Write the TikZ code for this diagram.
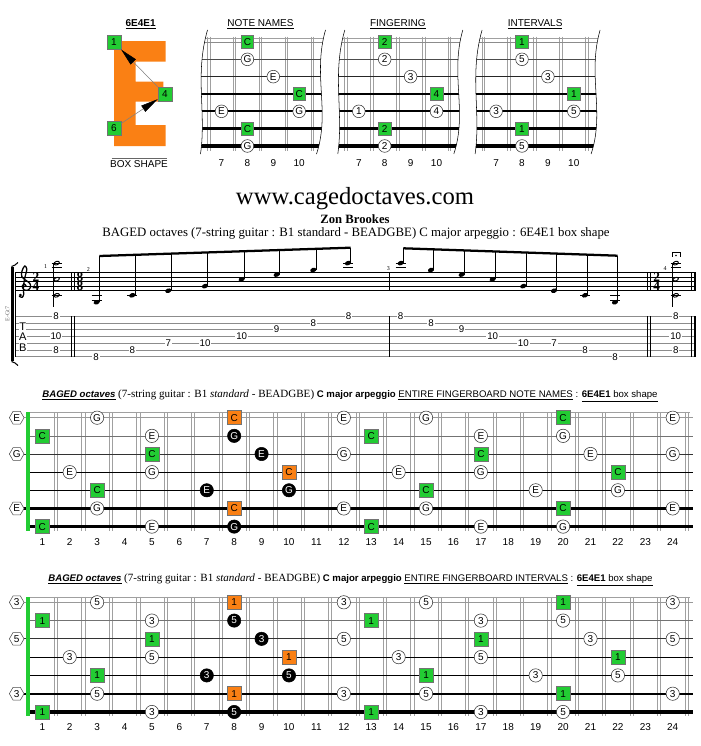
\documentclass[tikz,border=0pt]{standalone}
\usepackage{fontspec}
\setmainfont{Liberation Sans}
\newfontfamily\serf{Liberation Serif}
\usetikzlibrary{shapes.geometric,arrows.meta}
\definecolor{gr}{RGB}{34,204,51}
\definecolor{orn}{RGB}{250,128,20}
\definecolor{fretc}{RGB}{160,160,160}
\newcommand\fs[1]{\fontsize{#1}{#1}\selectfont}
\tikzset{
  nc/.style={circle,draw=black!80,line width=0.4pt,fill=white,inner sep=0pt,minimum size=10pt,font=\fs{7.5}},
  nk/.style={circle,draw=black,fill=black,text=white,inner sep=0pt,minimum size=10pt,font=\fs{7.5}},
  ng/.style={rectangle,draw=black!55,line width=0.4pt,fill=gr,inner sep=0pt,minimum size=10.5pt,font=\fs{7.5}},
  no/.style={rectangle,draw=black!55,line width=0.4pt,fill=orn,inner sep=0pt,minimum size=10.5pt,font=\fs{7.5}},
  nh/.style={regular polygon,regular polygon sides=6,draw=black!70,line width=0.4pt,fill=white,inner sep=0pt,minimum size=11pt,font=\fs{7.5}},
  tabn/.style={fill=white,inner sep=0.6pt,font=\fs{7.3}},
  lbl/.style={font=\fs{7.5}},
  tsig/.style={inner sep=0pt,font=\serf\bfseries\fs{10}},
}
\def\notelist{1/0/h/E/3, 1/3/c/G/5, 1/8/o/C/1, 1/12/c/E/3, 1/15/c/G/5, 1/20/g/C/1, 1/24/c/E/3,
2/1/g/C/1, 2/5/c/E/3, 2/8/k/G/5, 2/13/g/C/1, 2/17/c/E/3, 2/20/c/G/5,
3/0/h/G/5, 3/5/g/C/1, 3/9/k/E/3, 3/12/c/G/5, 3/17/g/C/1, 3/21/c/E/3, 3/24/c/G/5,
4/2/c/E/3, 4/5/c/G/5, 4/10/o/C/1, 4/14/c/E/3, 4/17/c/G/5, 4/22/g/C/1,
5/3/g/C/1, 5/7/k/E/3, 5/10/k/G/5, 5/15/g/C/1, 5/19/c/E/3, 5/22/c/G/5,
6/0/h/E/3, 6/3/c/G/5, 6/8/o/C/1, 6/12/c/E/3, 6/15/c/G/5, 6/20/g/C/1, 6/24/c/E/3,
7/1/g/C/1, 7/5/c/E/3, 7/8/k/G/5, 7/13/g/C/1, 7/17/c/E/3, 7/20/c/G/5}
% full fingerboard: #1 y of string 1, #2 string step, #3 prefix, #4 label macro
\newcommand\fboard[4]{%
  \pgfmathsetmacro\ytop{#1-5.5}%
  \pgfmathsetmacro\ybot{#1+6*#2+4}%
  \draw[fretc,line width=0.4pt] (28.6,\ytop) -- (689.5,\ytop);
  \foreach \k in {1,...,24}{%
    \pgfmathsetmacro\xf{42.3+(\k-0.5)*27.41}%
    \draw[fretc,line width=0.5pt] (\xf-1.6,\ytop) -- (\xf-1.6,\ybot) (\xf+1.6,\ytop) -- (\xf+1.6,\ybot);
  }
  \foreach \st/\w/\cc/\xs in {1/0.5/black!40/16.7,2/0.5/black!55/27,3/0.6/black!80/16.7,4/0.8/black/27,5/1.2/black/27,6/1.8/black/16.7,7/2.6/black/26}{%
    \draw[\cc,line width=\w pt] (\xs,{#1+(\st-1)*#2}) -- (693,{#1+(\st-1)*#2});
  }
  \fill[gr] (26.3,\ytop) rectangle (30.3,\ybot);
  \foreach \k in {1,...,24}{%
    \node[lbl] (#3f\k) at ({42.3+(\k-1)*27.41},{\ybot+11.2}) {\k};
  }
  \foreach \st/\fr/\ty/\nm/\iv in \notelist {%
    \pgfmathsetmacro\xn{ifthenelse(\fr==0,16.7,42.3+(\fr-1)*27.41)}%
    \node[n\ty] (#3n\st-\fr) at (\xn,{#1+(\st-1)*#2}) {#4};
  }
}
% small boards: #1 x of fret 7, #2 prefix, #3 title, #4 list
\newcommand\tboard[4]{%
  \begin{scope}
    \clip (#1-14,30) .. controls (#1-27,75) and (#1-15,112) .. (#1-21,154) -- (#1+95,154) .. controls (#1+109,112) and (#1+91,75) .. (#1+104,30) -- cycle;
    \draw[fretc,line width=0.4pt] (#1-40,38.5) -- (#1+120,38.5);
    \foreach \k in {0,...,4}{%
      \draw[fretc,line width=0.5pt] (#1-12.95+\k*25.9-1.3,36.5) -- ++(0,114) (#1-12.95+\k*25.9+1.3,36.5) -- ++(0,114);
    }
    \foreach \st/\w/\cc in {1/0.45/black!45,2/0.5/black!70,3/0.6/black!85,4/0.9/black,5/1.4/black,6/1.8/black,7/2.6/black}{%
      \draw[\cc,line width=\w pt] (#1-40,{42+(\st-1)*17.33}) -- (#1+120,{42+(\st-1)*17.33});
    }
  \end{scope}
  \draw[line width=0.4pt] (#1-14,30) .. controls (#1-27,75) and (#1-15,112) .. (#1-21,154);
  \draw[line width=0.4pt] (#1+104,30) .. controls (#1+91,75) and (#1+109,112) .. (#1+95,154);
  \foreach \st/\fr/\ty/\lb in {#4}{%
    \node[n\ty,minimum size=9.5pt] (#2n\st-\fr) at ({#1+(\fr-7)*25.9},{42+(\st-1)*17.33}) {\lb};
  }
  \foreach \k in {7,...,10}{%
    \node[lbl] (#2f\k) at ({#1+(\k-7)*25.9},163.3) {\k};
  }
  \node[lbl] (#2t) at (#1+39,24) {\underline{#3}};
}
\newcommand\btitle[1]{{\bfseries\itshape\underline{BAGED octaves}} {\serf\fs{8.3}(7-string guitar : B1 \textit{standard} - BEADGBE)} \textbf{C major arpeggio} \underline{ENTIRE FINGERBOARD #1} : \underline{\textbf{6E4E1} box shape}}
\begin{document}
\begin{tikzpicture}[x=0.75pt,y=-0.75pt]
\fill[white] (0,0) rectangle (700,746);
\useasboundingbox (0,0) rectangle (700,746);

% ---------- box shape ----------
\node[font=\bfseries\fs{7.5}] (bxt) at (140.7,24) {\underline{6E4E1}};
\fill[orn] (114,41) -- (165.7,41) -- (165.7,61.7) -- (135.7,61.7) -- (135.7,81.7) -- (163.3,81.7) -- (163.3,101.7) -- (135.7,101.7) -- (135.7,125) -- (165.7,125) -- (165.7,146) -- (114,146) -- cycle;
\node[ng] (b1) at (114,42.3) {1};
\node[ng] (b4) at (165,94.3) {4};
\node[ng] (b6) at (114,128.3) {6};
\draw[black!50,line width=0.4pt,-{Triangle[black,length=13pt,width=5.5pt]}] (b4) -- (b1);
\draw[black!50,line width=0.4pt,-{Triangle[black,length=13pt,width=5.5pt]}] (b6) -- (b4);
\node[lbl] (bxs) at (139,164.5) {BOX SHAPE};
\draw[black!60,line width=0.4pt] (111.7,158.3) -- (166.7,158.3);

% ---------- small boards ----------
\tboard{221.5}{N}{NOTE NAMES}{1/8/g/C, 2/8/c/G, 3/9/c/E, 4/10/g/C, 5/7/c/E, 5/10/c/G, 6/8/g/C, 7/8/c/G}
\tboard{358.8}{F}{FINGERING}{1/8/g/2, 2/8/c/2, 3/9/c/3, 4/10/g/4, 5/7/c/1, 5/10/c/4, 6/8/g/2, 7/8/c/2}
\tboard{496.1}{I}{INTERVALS}{1/8/g/1, 2/8/c/5, 3/9/c/3, 4/10/g/1, 5/7/c/3, 5/10/c/5, 6/8/g/1, 7/8/c/5}

% ---------- header ----------
\node[font=\serf\fs{18.5}] (web) at (355,199) {www.cagedoctaves.com};
\node[font=\serf\bfseries\fs{9.5}] (auth) at (355,219.5) {Zon Brookes};
\node[font=\serf\fs{9.6}] (sub) at (356,233.5) {BAGED octaves (7-string guitar : B1 standard - BEADGBE) C major arpeggio : 6E4E1 box shape};

% ---------- staff and tab ----------
\foreach \k in {0,...,4}{\draw[line width=0.4pt] (15,{272.3+\k*4.6}) -- (696,{272.3+\k*4.6});}
\foreach \k in {0,...,6}{\draw[black!45,line width=0.4pt] (15,{316+\k*6.78}) -- (696,{316+\k*6.78});}
\draw[line width=0.5pt] (15,272.3) -- (15,356.7);
\draw[line width=1.8pt] (12.3,267) -- (12.3,361);
\draw[line width=0.8pt] (11.5,266.5) .. controls (14,266) and (16,264.5) .. (18,262.5);
\draw[line width=0.8pt] (11.5,361.5) .. controls (14,362) and (16,363.5) .. (18,365.5);
\node[rotate=90,font=\serf\fs{4.5},text=black!60] (instr) at (7.5,314) {E-Gt7};
% treble clef drawn as a shape
\begin{scope}[shift={(24.5,286.1)},x=4.1pt,y=3.45pt]
  \draw[line width=0.95pt,line cap=round,line join=round] plot[smooth,tension=0.6] coordinates {
    (0.3,0.0) (0.0,0.42) (-0.42,0.0) (-0.1,-0.78) (0.6,-0.88) (1.12,-0.2) (0.95,0.62) (0.2,1.3)
    (-0.5,2.1) (-0.45,3.3) (0.05,4.4) (0.42,3.7) (0.25,2.7) (-0.05,1.2) (-0.2,-0.5)
    (-0.15,-1.8) (-0.45,-2.45) (-0.95,-2.2)};
  \fill (-0.75,-1.95) circle (0.3);
\end{scope}
\foreach \x/\a/\b [count=\j] in {36/2/4,80/8/8,656.7/2/4}{
  \node[tsig] (tsa\j) at (\x,276.7) {\a};
  \node[tsig] (tsb\j) at (\x,286.3) {\b};
}
\foreach \x/\y/\m in {45.7/266.7/1,88.3/269.3/2,388.3/268.3/3,665/268.3/4}{
  \node[font=\serf\fs{4.5}] (mn\m) at (\x,\y) {\m};
}
% bar lines
\foreach \ya/\yb in {272.3/290.7,316/356.7}{
  \draw[line width=0.5pt] (71.7,\ya) -- (71.7,\yb) (74,\ya) -- (74,\yb) (389,\ya) -- (389,\yb)
     (647.7,\ya) -- (647.7,\yb) (650,\ya) -- (650,\yb) (691.8,\ya) -- (691.8,\yb);
  \draw[line width=2.2pt] (695,\ya) -- (695,\yb);
}
% ledger lines
\foreach \x/\y in {96.7/295.3,96.7/299.9,132.3/295.3,348/267.7,348/263.1,400.7/267.7,400.7/263.1,585/295.3,615/295.3,615/299.9,56.7/267.7,56.7/263.1,56.7/295.3,675.7/267.7,675.7/263.1,675.7/295.3}{
  \draw[line width=0.4pt] (\x-5,\y) -- (\x+5,\y);
}
% measure 2
\foreach \x/\s in {96.7/-5,132.3/-2,168.3/0,205/2,241.7/5,276.7/7,313.3/9,348/12}{
  \pgfmathsetmacro\yy{290.7-2.3*\s}
  \pgfmathsetmacro\xs{\x+2.6}
  \pgfmathsetmacro\yb{256+(\xs-99.3)*(247.7-256)/(350.6-99.3)}
  \fill[rotate around={20:(\x,\yy)}] (\x,\yy) ellipse (3.2 and 2.2);
  \draw[line width=0.4pt] (\xs,\yy) -- (\xs,\yb);
}
\draw[line width=1.7pt] (99.3,256) -- (350.6,247.7);
% measure 3
\foreach \x/\s in {400.7/12,431/9,461.7/7,492.7/5,523.3/2,554/0,585/-2,615/-5}{
  \pgfmathsetmacro\yy{290.7-2.3*\s}
  \pgfmathsetmacro\xs{\x+2.6}
  \pgfmathsetmacro\yb{248.3+(\xs-403.3)*(255.7-248.3)/(617.6-403.3)}
  \fill[rotate around={20:(\x,\yy)}] (\x,\yy) ellipse (3.2 and 2.2);
  \draw[line width=0.4pt] (\xs,\yy) -- (\xs,\yb);
}
\draw[line width=1.7pt] (403.3,248.3) -- (617.6,255.7);
% chords
\foreach \x in {56.7,675.7}{
  \foreach \s in {-2,5,12}{
    \pgfmathsetmacro\yy{290.7-2.3*\s}
    \draw[line width=0.7pt,rotate around={20:(\x,\yy)}] (\x,\yy) ellipse (2.8 and 1.7);
  }
  \draw[line width=0.4pt] (\x-3,263.1) -- (\x-3,307);
}
% fermata
\draw[line width=0.6pt] (672,256.5) -- (672,252) -- (680,252) -- (680,256.5);
\fill (676,255.5) circle (0.8);
% TAB letters
\node[font=\fs{8.3},fill=white,inner sep=0.3pt] (tT) at (22.7,326.7) {T};
\node[font=\fs{8.3},fill=white,inner sep=0.3pt] (tA) at (22.7,336.7) {A};
\node[font=\fs{8.3},fill=white,inner sep=0.3pt] (tB) at (22.7,347.3) {B};
% tab numbers
\foreach \x/\L/\v [count=\j] in {56/1/8,56/4/10,56/6/8,
  96/7/8,132.3/6/8,168.3/5/7,205/5/10,241.7/4/10,276.7/3/9,313.3/2/8,348.7/1/8,
  400.7/1/8,431/2/8,461.7/3/9,492.7/4/10,523.3/5/10,554/5/7,585/6/8,615/7/8,
  675.7/1/8,675.7/4/10,675.7/6/8}{
  \node[tabn] (tab\j) at (\x,{316+(\L-1)*6.78}) {\v};
}

% ---------- full boards ----------
\node[font=\fs{7.2}] (tA1) at (350,395.7) {\btitle{NOTE NAMES}};
\fboard{417.7}{18.15}{A}{\nm}
\node[font=\fs{7.2}] (tB1) at (350.5,580) {\btitle{INTERVALS}};
\fboard{602.3}{18.28}{B}{\iv}
\end{tikzpicture}
\end{document}
